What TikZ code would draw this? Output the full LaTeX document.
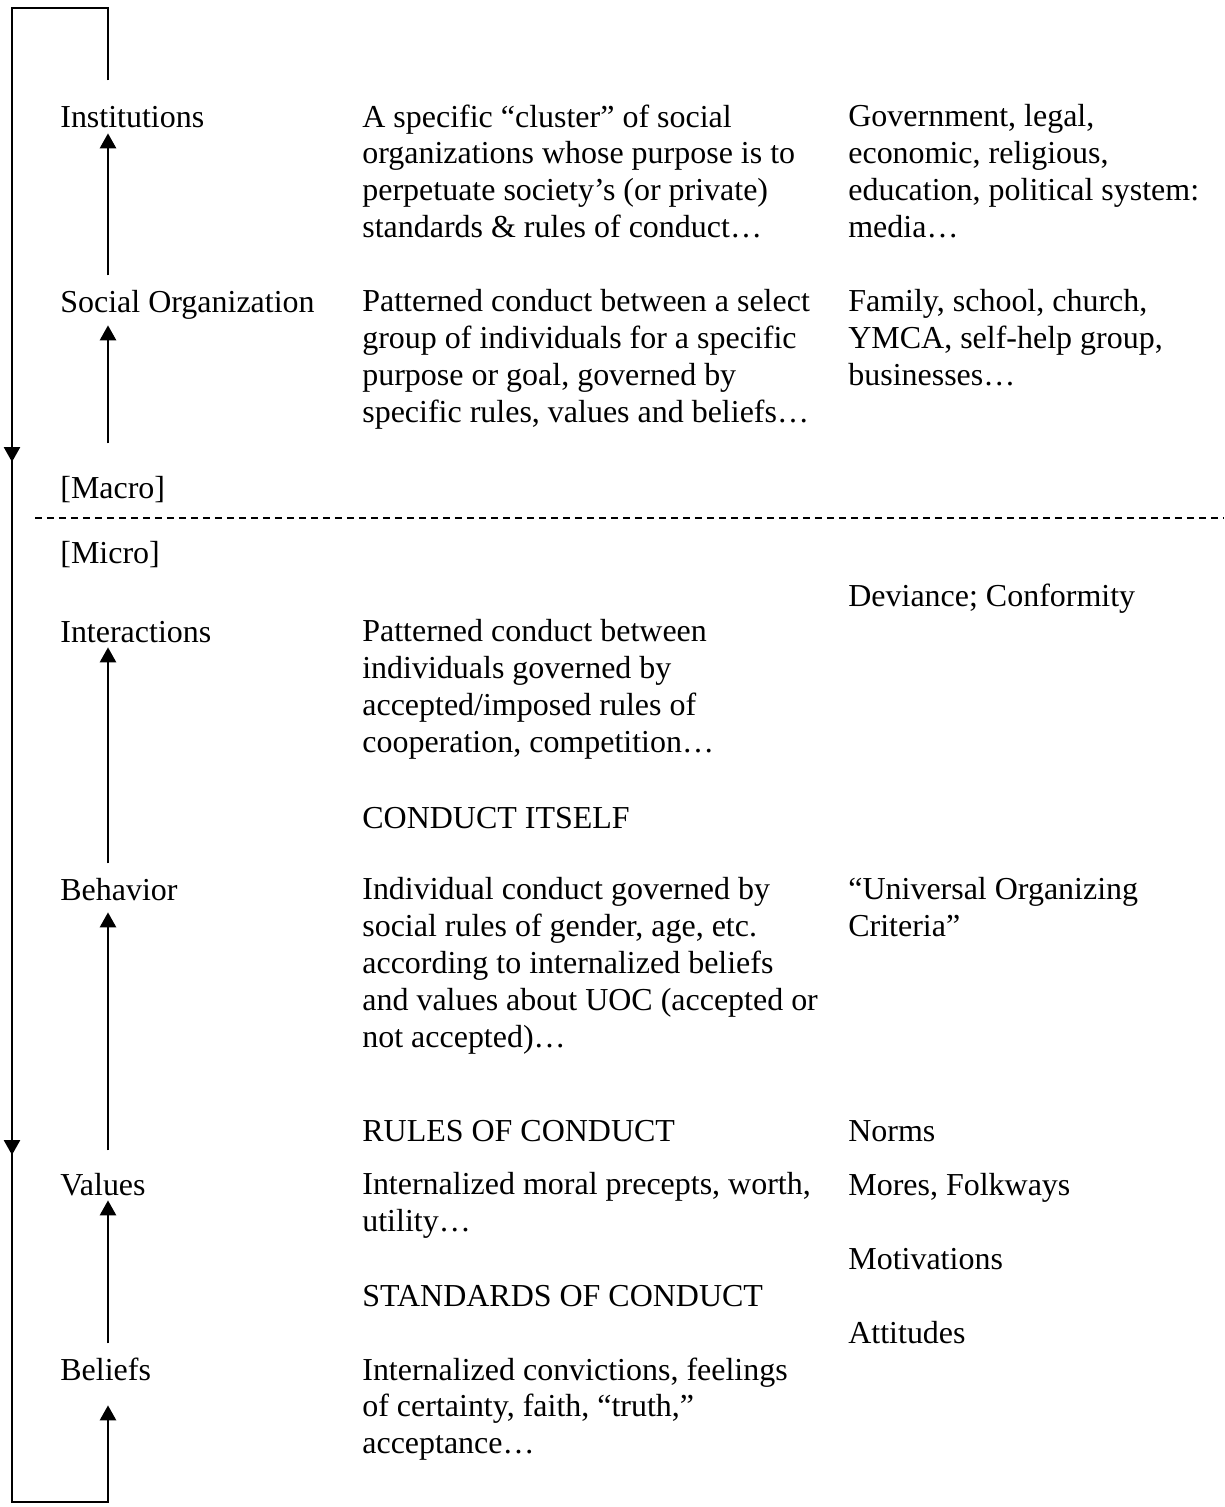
\documentclass[tikz,border=0pt]{standalone}
\usepackage{fontspec}
\setmainfont{Liberation Serif}
\usetikzlibrary{arrows.meta,calc}
\tikzstyle{lvl} = [inner sep=0pt, anchor=north west, yshift=14.7pt, align=left, font=\fontsize{18.2}{21}\selectfont, execute at begin node=\strut]
\tikzstyle{desc} = [lvl, yshift=-1.7pt]
\tikzstyle{line} = [draw, line width=1.5pt]
\tikzstyle{up} = [line, -{Triangle[length=0.3cm,width=0.32cm]}]
\tikzstyle{divider} = [draw, line width=1pt, dash pattern=on 0.14cm off 0.1cm]

\begin{document}
\begin{tikzpicture}[x=0.02cm, y=-0.02cm]
    \useasboundingbox (0,0) rectangle (1224,1507);
    % Place nodes
    \node [lvl] (inst) at (60,127) {Institutions};
    \node [desc] (instdesc) at (362,127) {A specific “cluster” of social\\organizations whose purpose is to\\perpetuate society’s (or private)\\standards \& rules of conduct…};
    \node [desc] (insteg) at (848,127) {Government, legal,\\economic, religious,\\education, political system:\\media…};
    \node [lvl] (socorg) at (60,312) {Social Organization};
    \node [desc] (socdesc) at (362,312) {Patterned conduct between a select\\group of individuals for a specific\\purpose or goal, governed by\\specific rules, values and beliefs…};
    \node [desc] (soceg) at (848,312) {Family, school, church,\\YMCA, self-help group,\\businesses…};
    \node [lvl] (macro) at (60,498) {{[}Macro{]}};
    \node [lvl] (micro) at (60,563) {{[}Micro{]}};
    \node [lvl] (deviance) at (848,606) {Deviance; Conformity};
    \node [lvl] (inter) at (60,642) {Interactions};
    \node [desc] (interdesc) at (362,642) {Patterned conduct between\\individuals governed by\\accepted/imposed rules of\\cooperation, competition…};
    \node [lvl] (conduct) at (362,828) {CONDUCT ITSELF};
    \node [lvl] (behav) at (60,900) {Behavior};
    \node [desc] (behavdesc) at (362,900) {Individual conduct governed by\\social rules of gender, age, etc.\\according to internalized beliefs\\and values about UOC (accepted or\\not accepted)…};
    \node [desc] (uoc) at (848,900) {“Universal Organizing\\Criteria”};
    \node [lvl] (rules) at (362,1141) {RULES OF CONDUCT};
    \node [lvl] (norms) at (848,1141) {Norms};
    \node [lvl] (values) at (60,1195) {Values};
    \node [desc] (valdesc) at (362,1195) {Internalized moral precepts, worth,\\utility…};
    \node [lvl] (mores) at (848,1195) {Mores, Folkways};
    \node [lvl] (motiv) at (848,1269) {Motivations};
    \node [lvl] (standards) at (362,1306) {STANDARDS OF CONDUCT};
    \node [lvl] (attit) at (848,1343) {Attitudes};
    \node [lvl] (beliefs) at (60,1380) {Beliefs};
    \node [desc] (beldesc) at (362,1380) {Internalized convictions, feelings\\of certainty, faith, “truth,”\\acceptance…};
    % Macro / micro divider
    \coordinate (divl) at (35,518);
    \coordinate (divr) at (1224,518);
    \path [divider] (divl) -- (divr);
    % Draw edges
    \coordinate (arr) at (108,0);
    \path [up] ($(socorg.base -| arr)+(0,-37)$) -- ($(inst.base -| arr)+(0,6)$);
    \path [up] ($(macro.base -| arr)+(0,-55)$) -- ($(socorg.base -| arr)+(0,13)$);
    \path [up] ($(behav.base -| arr)+(0,-37)$) -- ($(inter.base -| arr)+(0,5)$);
    \path [up] ($(values.base -| arr)+(0,-45)$) -- ($(behav.base -| arr)+(0,12)$);
    \path [up] ($(beliefs.base -| arr)+(0,-37)$) -- ($(values.base -| arr)+(0,5)$);
    % Feedback loop
    \coordinate (tl) at (12,8);
    \coordinate (bl) at (12,1502);
    \coordinate (m1) at (12,462);
    \coordinate (m2) at (12,1155);
    \path [up] ($(inst.base -| arr)+(0,-47)$) |- (tl) -- (bl) -| ($(beliefs.base -| arr)+(0,25)$);
    \path [up] (tl) -- (m1);
    \path [up] (m1) -- (m2);
\end{tikzpicture}
\end{document}
